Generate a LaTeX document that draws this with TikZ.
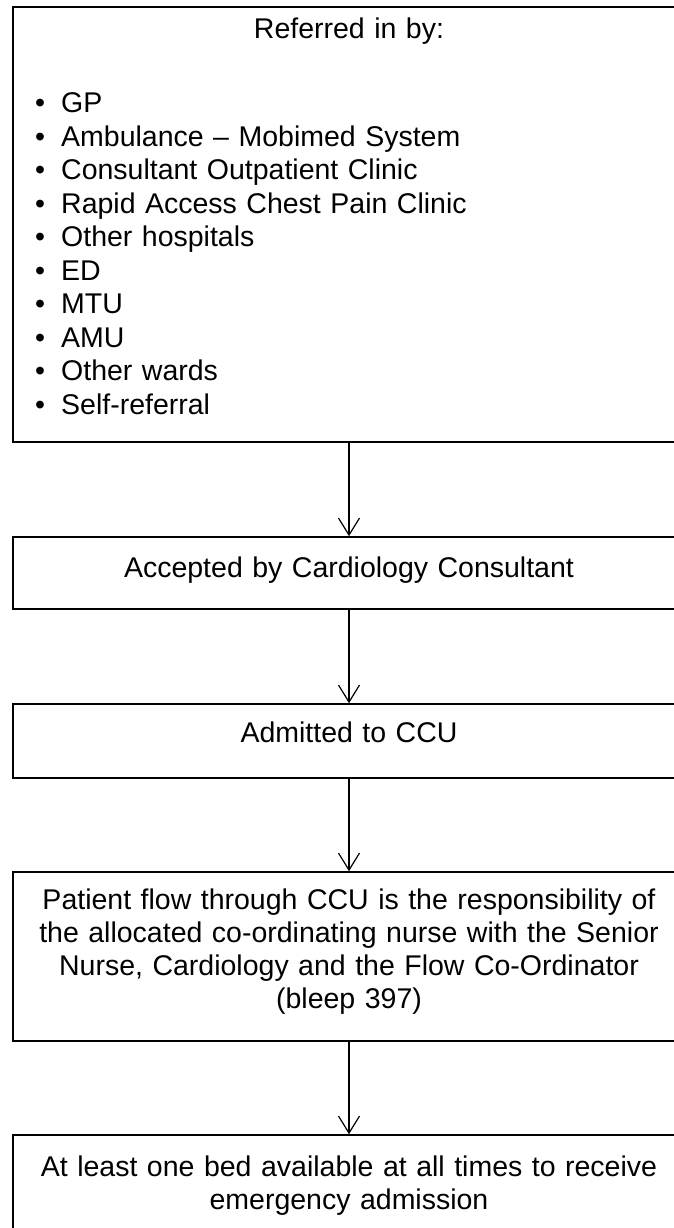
\documentclass[tikz,border=0pt]{standalone}
\usepackage{fontspec}
\setmainfont{Liberation Sans}
\usetikzlibrary{arrows.meta}
\begin{document}
\begin{tikzpicture}[x=1pt,y=-1pt,
  box/.style={draw=black, line width=1.6pt, rectangle, minimum width=672pt, inner sep=0pt},
  txt/.style={inner sep=0pt, anchor=north, text width=700pt, align=center,
              font=\fontsize{28.5}{33}\selectfont},
  listtxt/.style={inner sep=0pt, anchor=north west, text width=600pt, align=left,
              font=\fontsize{28.5}{33.5}\selectfont},
  flow/.style={line width=1.2pt, -{Straight Barb[length=17pt,width=21pt]}}]
\useasboundingbox (0,0) rectangle (673,1228);

% boxes of the flow chart
\node[box, minimum height=435pt] (b1) at (349,224.5) {};
\node[box, minimum height=72pt]  (b2) at (349,573) {};
\node[box, minimum height=74pt]  (b3) at (349,741) {};
\node[box, minimum height=169pt] (b4) at (349,956.5) {};
\node[box, minimum height=125pt] (b5) at (349,1197.5) {};

% texts
\node[txt] (t1) at (349,14.9) {\strut Referred in by:};
\newcommand{\bul}{\makebox[26pt][l]{•}}
\node[listtxt] (l1) at (35,88.9) {\strut\bul GP\\
\bul Ambulance – Mobimed System\\
\bul Consultant Outpatient Clinic\\
\bul Rapid Access Chest Pain Clinic\\
\bul Other hospitals\\
\bul ED\\
\bul MTU\\
\bul AMU\\
\bul Other wards\\
\bul Self-referral};
\node[txt] (t2) at (349,553.9) {\strut Accepted by Cardiology Consultant};
\node[txt] (t3) at (349,718.9) {\strut Admitted to CCU};
\node[txt] (t4) at (349,885.9) {\strut Patient flow through CCU is the responsibility of\\
the allocated co-ordinating nurse with the Senior\\
Nurse, Cardiology and the Flow Co-Ordinator\\
(bleep 397)};
\node[txt] (t5) at (349,1152.9) {\strut At least one bed available at all times to receive\\
emergency admission};

% connectors
\draw[flow] (b1.south) -- (b2.north);
\draw[flow] (b2.south) -- (b3.north);
\draw[flow] (b3.south) -- (b4.north);
\draw[flow] (b4.south) -- (b5.north);
\end{tikzpicture}
\end{document}
